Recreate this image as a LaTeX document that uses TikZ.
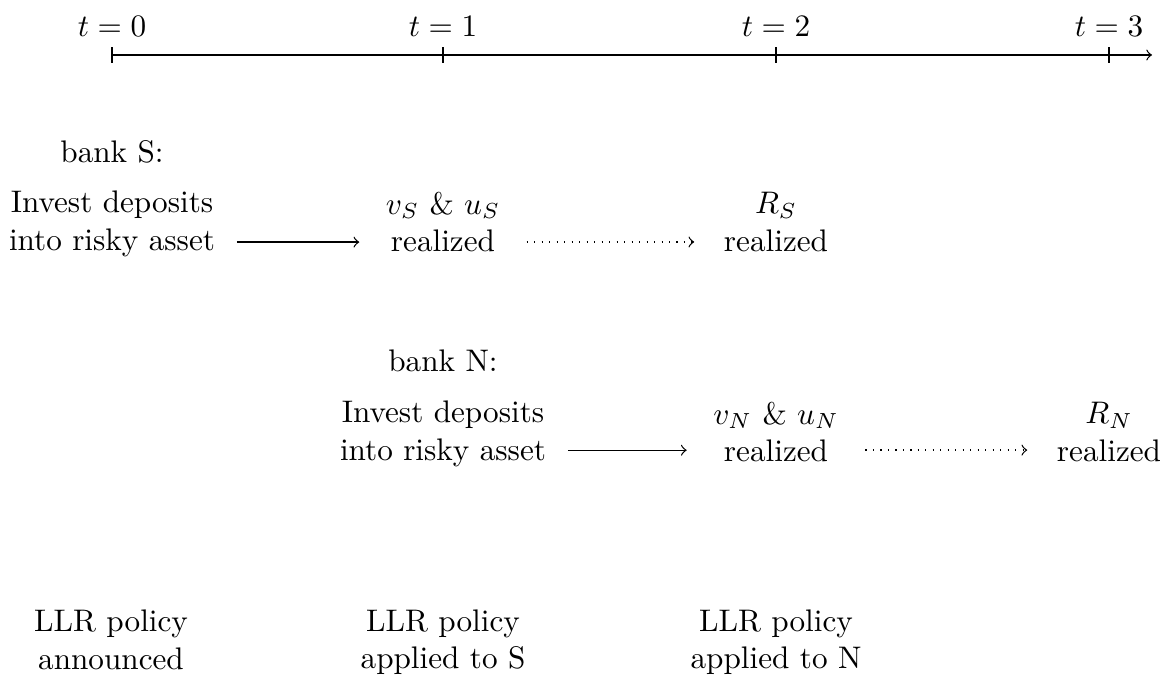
\documentclass[tikz,border=0pt]{standalone}
\usetikzlibrary{calc}
\tikzset{
  lbl/.style={align=center, inner sep=3.33pt},
  tick/.style={line width=0.4pt},
  solidarrow/.style={->, shorten <=3.5pt, shorten >=5pt},
  dotarrow/.style={->, dotted, shorten <=5pt, shorten >=6pt},
}
\begin{document}
\begin{tikzpicture}[x=0.3205pt, y=-0.3205pt]
\useasboundingbox (0,0) rectangle (1162,679);
% time axis
\coordinate (a0) at (112,55);
\coordinate (a1) at (443,55);
\coordinate (a2) at (776,55);
\coordinate (a3) at (1109,55);
\coordinate (aend) at (1152,55);
\draw[->] (a0) -- (aend);
\foreach \i in {0,1,2,3}{
  \draw[tick] ([yshift=2.5pt]a\i) -- ([yshift=-2.5pt]a\i);
  \node[above, inner sep=3.33pt] (tl\i) at ([yshift=2.5pt]a\i) {$t=\i$};
}
% bank S
\node[lbl, anchor=base] (bankS) at (112,163) {bank S:};
\node[lbl] (invS) at (112,224) {Invest deposits\\into risky asset};
\node[lbl] (vS) at (443,222) {$v_S$ \& $u_S$\\realized};
\node[lbl] (RS) at (776,222) {$R_S$\\realized};
\draw[solidarrow] ([yshift=-5.8pt]invS.east) -- ([yshift=-5.8pt]invS.east -| vS.west);
\draw[dotarrow] ([yshift=-6.4pt]vS.east) -- ([yshift=-6.4pt]vS.east -| RS.west);
% bank N
\node[lbl, anchor=base] (bankN) at (443,372) {bank N:};
\node[lbl] (invN) at (443,434) {Invest deposits\\into risky asset};
\node[lbl] (vN) at (776,432) {$v_N$ \& $u_N$\\realized};
\node[lbl] (RN) at (1109,432) {$R_N$\\realized};
\draw[solidarrow] ([yshift=-5.2pt]invN.east) -- ([yshift=-5.2pt]invN.east -| vN.west);
\draw[dotarrow] ([yshift=-5.8pt]vN.east) -- ([yshift=-5.8pt]vN.east -| RN.west);
% LLR
\node[lbl] (llr0) at (111,640) {LLR policy\\announced};
\node[lbl] (llr1) at (443,642) {LLR policy\\applied to S};
\node[lbl] (llr2) at (776,642) {LLR policy\\applied to N};
\end{tikzpicture}
\end{document}
